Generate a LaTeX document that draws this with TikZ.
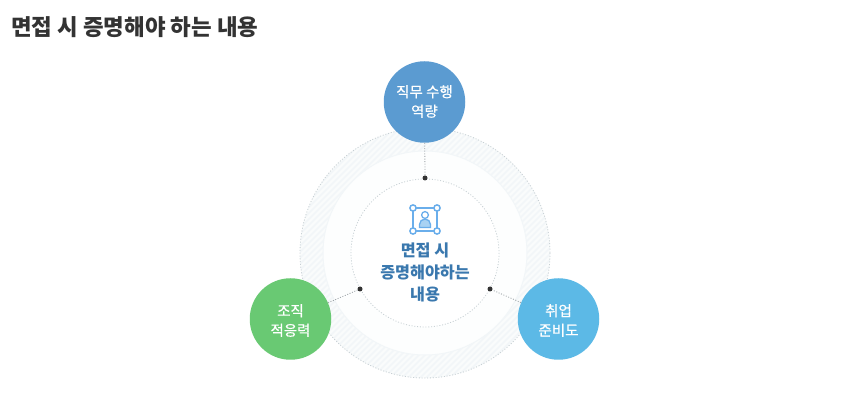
\documentclass[tikz,border=0pt]{standalone}
\usepackage{fontspec}
\newfontfamily\krfont{Noto Sans CJK KR}
\newfontfamily\krsemi[FakeBold=0.6]{Noto Sans CJK KR}
\definecolor{titlec}{HTML}{333333}
\definecolor{topc}{HTML}{5B9BD1}
\definecolor{greenc}{HTML}{69C973}
\definecolor{skyc}{HTML}{5CB9E6}
\definecolor{centerc}{HTML}{3A78AE}
\definecolor{iconc}{HTML}{6AAEEB}
\definecolor{iconf}{HTML}{A9D2F3}
\definecolor{ringc}{HTML}{FAFCFC}
\definecolor{hatchc}{HTML}{F2F6F8}
\definecolor{dotc}{HTML}{C6CFD3}
\definecolor{linkc}{HTML}{9AA1A5}
\tikzset{
  bubble/.style={circle,minimum size=81.5pt,inner sep=0pt},
  bubbletext/.style={inner sep=0pt,text=white,align=center,
    font=\krsemi\fontsize{14.5}{19.5}\selectfont},
  hub/.style={circle,fill=black!80,minimum size=5pt,inner sep=0pt},
  link/.style={draw=linkc,line width=0.8pt,dash pattern=on 1pt off 1.6pt},
  dotring/.style={draw=dotc,line width=0.8pt,dash pattern=on 1pt off 1.8pt},
  iconline/.style={draw=iconc,line width=1.5pt},
}
\begin{document}
\begin{tikzpicture}[x=1pt,y=-1pt]
\useasboundingbox (0,0) rectangle (847,406);
\fill[white] (0,0) rectangle (847,406);
\node[anchor=west,inner sep=0pt,text=titlec,font=\krfont\bfseries\fontsize{22.4}{26}\selectfont] (title) at (11,27.5) {면접 시 증명해야 하는 내용};
\coordinate (c) at (425,253);
% hatched ring
\fill[ringc] (c) circle[radius=125];
\begin{scope}
\clip (c) circle[radius=125];
\foreach \i in {0,6,...,540}{
  \draw[hatchc,line width=1.5pt] (290+\i-270,388) -- (290+\i,118);
}
\end{scope}
\fill[white!60!ringc] (c) circle[radius=102];
\draw[draw=hatchc,line width=1pt] (c) circle[radius=102];
\fill[white] (c) circle[radius=74];
\draw[dotring] (c) circle[radius=125];
\draw[dotring] (c) circle[radius=74];
% hubs
\node[hub] (h1) at (425,178) {};
\node[hub] (h2) at (360,289) {};
\node[hub] (h3) at (490,289) {};
% bubbles
\node[bubble,fill=topc] (a) at (424.5,102) {};
\node[bubble,fill=greenc] (b) at (290.5,319) {};
\node[bubble,fill=skyc] (d) at (558.5,319) {};
\node[bubbletext] (atext) at (424.5,101.5) {직무 수행\\역량};
\node[bubbletext] (btext) at (290.5,320.5) {조직\\적응력};
\node[bubbletext] (dtext) at (558.5,320.5) {취업\\준비도};
\draw[link] (a) -- (h1);
\draw[link] (b) -- (h2);
\draw[link] (d) -- (h3);
% icon
\draw[iconline] (413,208) rectangle (437,231);
\draw[iconline,fill=iconf,line width=1.3pt] (419.5,227.5) -- (419.5,224.5) arc[start angle=180,end angle=360,radius=5.5] -- (430.5,227.5) -- cycle;
\draw[iconline,fill=white,line width=1.3pt] (425,215) circle[radius=3.4];
\foreach \x/\y in {413/208,437/208,413/231,437/231}
  \draw[iconline,fill=white] (\x,\y) circle[radius=3.1];
\node[align=center,inner sep=0pt,text=centerc,font=\krfont\bfseries\fontsize{16.2}{22}\selectfont] (m) at (425,272.5) {면접 시\\증명해야하는\\내용};
\end{tikzpicture}
\end{document}
